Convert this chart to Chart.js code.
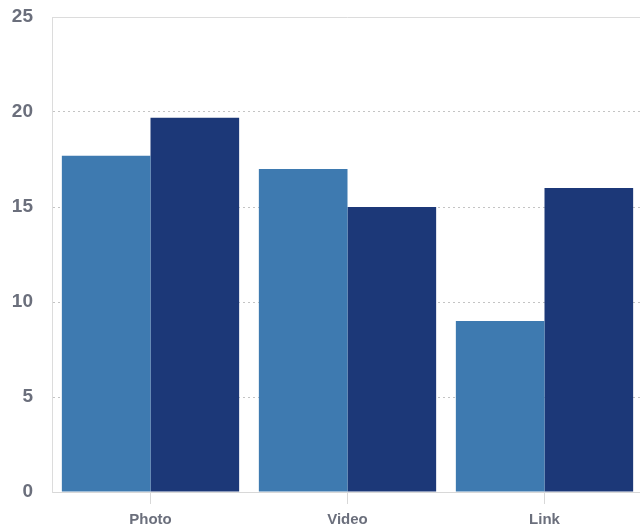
<!DOCTYPE html>
<html>
<head>
<meta charset="utf-8">
<script src="https://cdn.jsdelivr.net/npm/chart.js@4/dist/chart.umd.min.js"></script>
<style>
html,body{margin:0;padding:0;overflow:hidden;background:#fff;}
#wrap{width:643px;height:529px;position:relative;}
</style>
</head>
<body>
<div id="wrap"><canvas id="c"></canvas></div>
<script>
const categories = ["Photo", "Video", "Link"];
const seriesA = [17.7, 17.0, 9.0];
const seriesB = [19.7, 15.0, 16.0];
const yTicks = [0, 5, 10, 15, 20, 25];

const borderPlugin = {
  id: 'plotBorder',
  afterDraw(chart) {
    const a = chart.chartArea, ctx = chart.ctx;
    ctx.save();
    ctx.strokeStyle = '#dcdcdc';
    ctx.lineWidth = 1;
    ctx.beginPath();
    ctx.moveTo(a.left + 0.5, a.top + 0.5);
    ctx.lineTo(a.right, a.top + 0.5);
    ctx.stroke();
    ctx.restore();
  }
};

new Chart(document.getElementById('c'), {
  type: 'bar',
  data: {
    labels: categories,
    datasets: [
      { data: seriesA, backgroundColor: '#3e7ab0', borderWidth: 0 },
      { data: seriesB, backgroundColor: '#1c3878', borderWidth: 0 }
    ]
  },
  options: {
    responsive: true,
    maintainAspectRatio: false,
    animation: false,
    layout: { padding: { top: 17, right: 0, bottom: 0, left: 0 } },
    plugins: { legend: { display: false }, tooltip: { enabled: false } },
    datasets: { bar: { barPercentage: 1.0, categoryPercentage: 0.9 } },
    scales: {
      x: {
        offset: true,
        grid: { offset: false, drawOnChartArea: false, drawTicks: true, tickLength: 12, color: '#d8d8d8' },
        border: { display: true, color: '#d8d8d8' },
        ticks: { color: '#6b6f7c', font: { family: '"Liberation Sans", Arial, sans-serif', size: 15, weight: 'bold' }, padding: 7 },
        afterFit(s) { s.height = 37; s.paddingLeft = 0; s.paddingRight = 0; }
      },
      y: {
        min: 0, max: 25,
        afterBuildTicks(s) { s.ticks = yTicks.map(v => ({ value: v })); },
        grid: { drawTicks: false, color: '#c4c4c4', lineWidth: 1 },
        border: { display: true, color: '#dcdcdc', dash: [2, 3] },
        ticks: { color: '#6b6f7c', font: { family: '"Liberation Sans", Arial, sans-serif', size: 19, weight: 'bold' }, padding: 19 },
        afterFit(s) { s.width = 52; s.paddingTop = 0; s.paddingBottom = 0; }
      }
    }
  },
  plugins: [borderPlugin]
});
</script>
</body>
</html>
